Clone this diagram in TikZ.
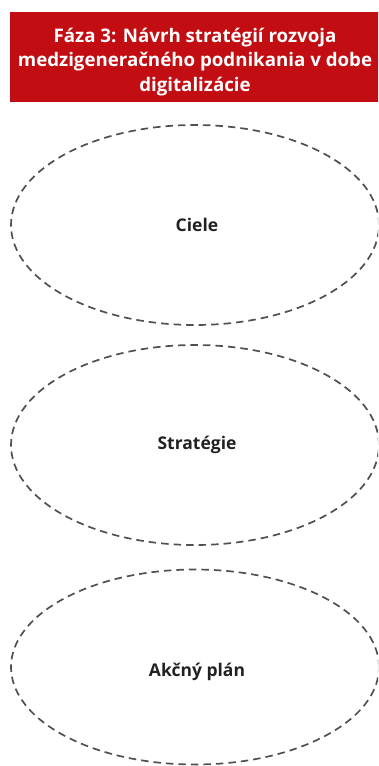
\documentclass[tikz,border=0pt]{standalone}
\usepackage{fontspec}
\setmainfont{Open Sans}
\usetikzlibrary{shapes.geometric}
\definecolor{headred}{HTML}{C20E12}
\definecolor{dashgrey}{HTML}{505050}
\definecolor{ink}{HTML}{222222}
\tikzset{
  x=1pt, y=-1pt,
  header/.style={fill=headred, draw=none},
  headtext/.style={text=white, font=\bfseries\fontsize{18.7}{24.5}\selectfont, align=center},
  phase/.style={ellipse, draw=dashgrey, dash pattern=on 7.5pt off 5pt, line width=1.7pt,
    minimum width=368pt, minimum height=200pt, inner sep=0pt},
  phasetext/.style={font=\bfseries\fontsize{17.5}{20}\selectfont, text=ink}
}
\begin{document}
\begin{tikzpicture}
  \useasboundingbox (0,0) rectangle (378,766);
  \clip (0,0) rectangle (378,766);
  % title banner
  \fill[header] (9.5,12) rectangle (390,102);
  \node[headtext] (title) at (195,62) {Fáza 3: Návrh stratégií rozvoja\\medzigeneračného podnikania v dobe\\digitalizácie};
  % the three stages
  \node[phase] (ciele) at (195,225) {};
  \node[phasetext] (cieletext) at (197,225) {Ciele};
  \node[phase] (strategie) at (195,445) {};
  \node[phasetext] (strategietext) at (197,445) {Stratégie};
  \node[phase, minimum height=195pt] (plan) at (195,667) {};
  \node[phasetext] (plantext) at (197,672) {Akčný plán};
\end{tikzpicture}
\end{document}
